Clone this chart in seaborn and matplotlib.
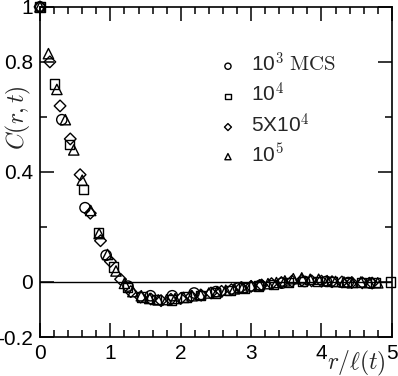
# Scaling plot of the correlation function C(r,t) vs r/l(t) for several times.
import numpy as np
import matplotlib
matplotlib.use("Agg")
import matplotlib.pyplot as plt
import matplotlib.ticker as mticker
import seaborn as sns

# 10^3 MCS (circles)
x_c = [0, 0.31, 0.64, 0.94, 1.25, 1.57, 1.88, 2.19, 2.5, 2.82, 3.13, 3.44, 3.76, 4.07, 4.38, 4.69]
y_c = [1.0, 0.59, 0.27, 0.097, -0.015, -0.05, -0.05, -0.04, -0.035, -0.022, -0.012, -0.004,
       0.002, 0.002, -0.002, -0.004]

# 10^4 (squares)
x_s = [0, 0.21, 0.415, 0.62, 0.83, 1.04, 1.245, 1.45, 1.66, 1.87, 2.075, 2.28, 2.49, 2.7,
       2.9, 3.11, 3.32, 3.53, 3.735, 3.94, 4.15, 4.36, 4.565, 4.77, 4.98]
y_s = [1.0, 0.72, 0.50, 0.335, 0.18, 0.055, -0.02, -0.055, -0.063, -0.065, -0.055, -0.048,
       -0.04, -0.03, -0.022, -0.015, -0.008, -0.002, 0.003, 0.002, 0.001, -0.001, -0.003,
       -0.002, 0.0]

# 5x10^4 (diamonds)
x_d = [0, 0.14, 0.285, 0.43, 0.57, 0.715, 0.86, 1.0, 1.145, 1.29, 1.43, 1.575, 1.72, 1.86,
       2.0, 2.15, 2.29, 2.43, 2.58, 2.72, 2.86, 3.0, 3.15, 3.29, 3.43, 3.58, 3.72, 3.86, 4.0,
       4.15, 4.29, 4.43, 4.58, 4.72]
y_d = [1.0, 0.80, 0.64, 0.52, 0.39, 0.25, 0.15, 0.075, 0.01, -0.035, -0.055, -0.062, -0.068,
       -0.063, -0.06, -0.052, -0.048, -0.04, -0.034, -0.028, -0.02, -0.016, -0.011, -0.006,
       -0.002, 0.003, 0.006, 0.004, 0.003, 0.001, 0.0, -0.002, -0.003, -0.004]

# 10^5 (triangles)
x_t = [0, 0.12, 0.24, 0.36, 0.48, 0.60, 0.72, 0.84, 0.96, 1.08, 1.2, 1.32, 1.44, 1.56, 1.68,
       1.8, 1.92, 2.04, 2.16, 2.28, 2.4, 2.52, 2.64, 2.76, 2.88, 3.0, 3.12, 3.24, 3.36, 3.48,
       3.6, 3.72, 3.84, 3.96, 4.08, 4.2, 4.32, 4.44, 4.56, 4.68, 4.8]
y_t = [1.0, 0.83, 0.70, 0.59, 0.48, 0.37, 0.26, 0.176, 0.10, 0.04, -0.005, -0.035, -0.05,
       -0.06, -0.065, -0.064, -0.06, -0.056, -0.05, -0.045, -0.04, -0.035, -0.03, -0.025,
       -0.02, -0.014, -0.01, -0.006, -0.002, 0.004, 0.012, 0.015, 0.01, 0.01, 0.005, 0.002,
       0.0, -0.002, 0.0, -0.002, -0.003]

labels = [r"10$^{\mathsf{3}}$ $\mathrm{MCS}$", r"10$^{\mathsf{4}}$",
          r"5X10$^{\mathsf{4}}$", r"10$^{\mathsf{5}}$"]

def main():
    sns.set_theme(style="ticks")
    plt.rcParams["font.family"] = ["Liberation Sans", "DejaVu Sans"]
    plt.rcParams["mathtext.fontset"] = "cm"

    fig = plt.figure(figsize=(3.98, 3.76), dpi=100)
    ax = fig.add_axes([0.1005, 0.1037, 0.884, 0.878])

    series = [(x_c, y_c, "o"), (x_s, y_s, "s"), (x_d, y_d, "D"), (x_t, y_t, "^")]
    sizes = {"o": 55, "s": 45, "D": 35, "^": 55}
    for (xs, ys, m), lab in zip(series, labels):
        sns.scatterplot(x=xs, y=ys, marker=m, s=sizes[m], facecolors="none",
                        edgecolors="black", linewidth=1.0, label=lab, ax=ax,
                        clip_on=False, zorder=3)

    ax.axhline(0, color="black", lw=1.0, zorder=1)

    ax.set_xlim(0, 5)
    ax.set_ylim(-0.2, 1.0)
    ax.xaxis.set_major_locator(mticker.MultipleLocator(1))
    ax.xaxis.set_minor_locator(mticker.MultipleLocator(0.2))
    ax.set_yticks([-0.2, 0, 0.4, 0.8, 1.0])
    ax.set_yticklabels(["-0.2", "0", "0.4", "0.8", "1"])
    ax.yaxis.set_minor_locator(mticker.FixedLocator([0.2, 0.6]))
    ax.tick_params(which="both", direction="in", top=True, right=True,
                   labelsize=15, width=1.1, colors="black", pad=5)
    ax.tick_params(which="major", length=10)
    ax.tick_params(which="minor", length=5)
    for sp in ax.spines.values():
        sp.set_linewidth(1.2)
        sp.set_color("black")

    ax.set_ylabel(r"$C(r,t)$", fontsize=17)
    ax.yaxis.set_label_coords(-0.06, 0.664)
    ax.yaxis.label.set_va("center")
    ax.set_xlabel(r"$r/\ell(t)$", fontsize=17)
    ax.xaxis.set_label_coords(0.9, -0.079)
    ax.xaxis.label.set_va("center")

    ax.legend(loc="upper left", bbox_to_anchor=(0.475, 0.89), frameon=False,
              fontsize=15, markerscale=0.6, handlelength=1.2, handletextpad=0.5,
              labelspacing=0.3, borderaxespad=0)

    fig.savefig("out.png", dpi=100)


if __name__ == "__main__":
    main()
